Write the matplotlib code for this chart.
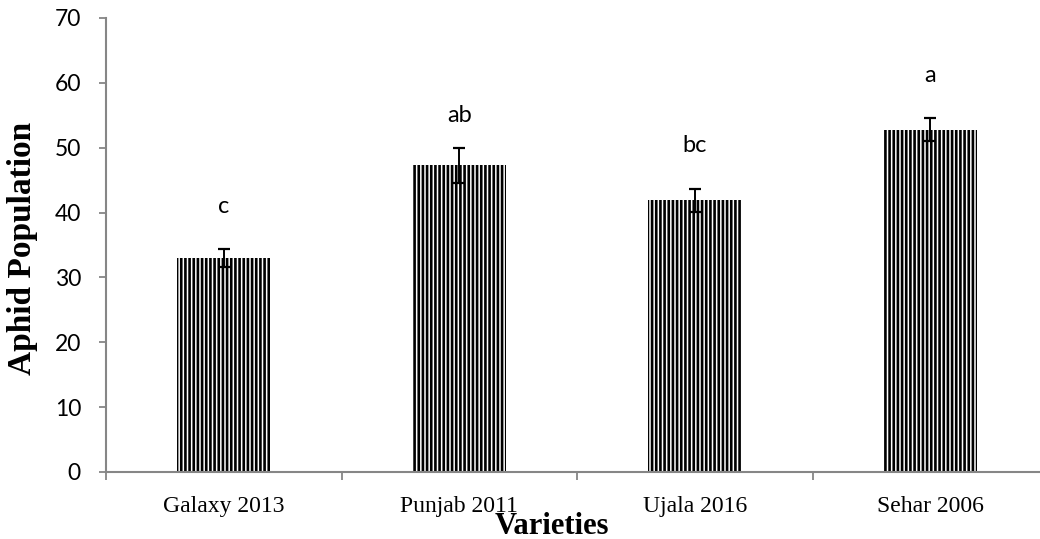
import matplotlib
matplotlib.use("Agg")
import matplotlib.pyplot as plt
import numpy as np

categories = ["Galaxy 2013", "Punjab 2011", "Ujala 2016", "Sehar 2006"]
values = [33.0, 47.3, 41.9, 52.8]
errors = [1.4, 2.7, 1.8, 1.8]
letters = ["c", "ab", "bc", "a"]
letter_y = [41.0, 54.9, 50.3, 61.1]
yticks = [0, 10, 20, 30, 40, 50, 60, 70]

W, H = 1040, 539
fig = plt.figure(figsize=(W / 100, H / 100), dpi=100)
plt.rcParams['hatch.linewidth'] = 1.9

ax_l, ax_r, ax_t, ax_b = 106, 1048, 18, 472
ax = fig.add_axes([ax_l / W, (H - ax_b) / H, (ax_r - ax_l) / W, (ax_b - ax_t) / H])

x = np.arange(len(categories))
ax.bar(x, values, width=0.395, color="white", edgecolor="black", linewidth=0,
       hatch="||||", zorder=2)
ax.errorbar(x, values, yerr=errors, fmt="none", ecolor="black", elinewidth=1.4,
            capsize=4.5, capthick=1.6, zorder=3)

sans = ["Lato", "DejaVu Sans"]
serif = ["Liberation Serif", "DejaVu Serif"]
for xi, lab, ly in zip(x, letters, letter_y):
    ax.text(xi, ly, lab, ha="center", va="center", fontsize=17, family=sans)

ax.set_xlim(-0.5, len(categories) - 0.5)
ax.set_ylim(0, 70)
ax.set_yticks(yticks)
ax.set_yticklabels([str(t) for t in yticks], fontsize=16.5, family=sans)
ax.set_xticks(x)
ax.set_xticklabels(categories, fontsize=17, family=serif)
ax.set_xticks(np.arange(-0.5, len(categories) + 0.5, 1.0), minor=True)
ax.tick_params(axis="x", which="major", length=0, pad=17)
ax.tick_params(axis="x", which="minor", length=6, width=1.3, color="#868686")
ax.tick_params(axis="y", length=5, width=1.3, color="#868686", pad=13)

for s in ["top", "right"]:
    ax.spines[s].set_visible(False)
for s in ["left", "bottom"]:
    ax.spines[s].set_color("#868686")
    ax.spines[s].set_linewidth(1.5)

fig.text(552 / W, 1 - 534 / H, "Varieties", ha="center", va="baseline",
         fontsize=22, fontweight="bold", family=serif)
fig.text(23 / W, 1 - 248 / H, "Aphid Population", ha="center", va="center",
         rotation=90, fontsize=24, fontweight="bold", family=serif)

fig.savefig("out.png", dpi=100)
